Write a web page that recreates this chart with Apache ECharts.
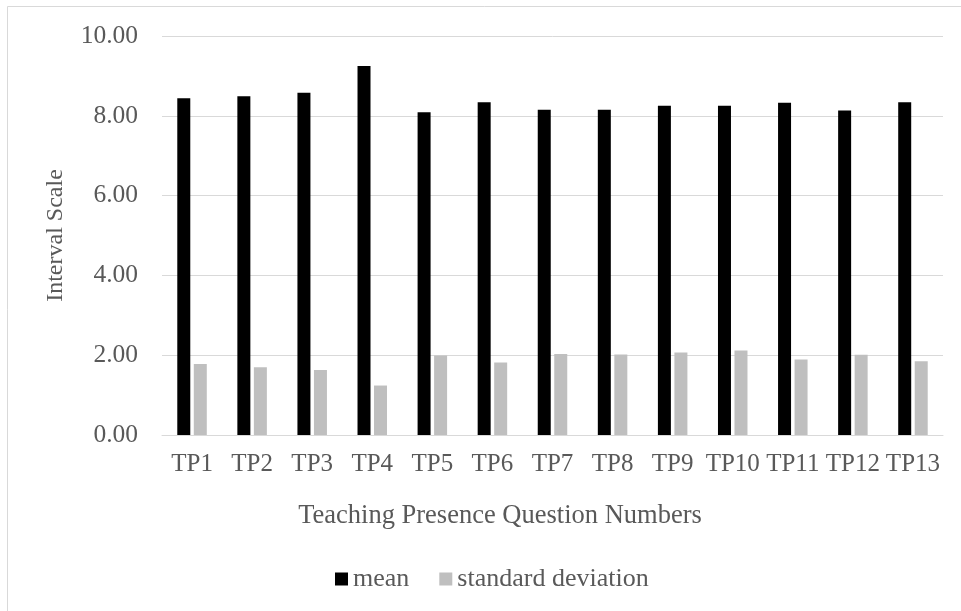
<!DOCTYPE html>
<html>
<head>
<meta charset="utf-8">
<script src="https://cdn.jsdelivr.net/npm/echarts@6/dist/echarts.min.js"></script>
<style>
  html, body { margin: 0; padding: 0; background: #ffffff; }
  #chart { width: 961px; height: 611px; }
</style>
</head>
<body>
<div id="chart"></div>
<script>
// Teaching presence survey items
const categories = ['TP1', 'TP2', 'TP3', 'TP4', 'TP5', 'TP6', 'TP7', 'TP8', 'TP9', 'TP10', 'TP11', 'TP12', 'TP13'];
const meanValues = [8.44, 8.49, 8.58, 9.25, 8.09, 8.34, 8.15, 8.15, 8.25, 8.25, 8.33, 8.13, 8.34];
const sdValues = [1.78, 1.70, 1.63, 1.24, 1.99, 1.82, 2.03, 2.02, 2.07, 2.12, 1.89, 2.01, 1.85];
const yTicks = { min: 0, max: 10, interval: 2 };

const FONT = '"Liberation Serif", "Times New Roman", serif';
const TEXT = '#595959';
const LINE = '#d9d9d9';

const chart = echarts.init(document.getElementById('chart'), null, { renderer: 'canvas' });

chart.setOption({
  animation: false,
  backgroundColor: '#ffffff',
  textStyle: { fontFamily: FONT, color: TEXT },
  grid: { left: 162, right: 18, top: 36, bottom: 176, containLabel: false },
  graphic: [
    {
      type: 'rect',
      shape: { x: 7.5, y: 6.5, width: 970, height: 620 },
      style: { fill: 'none', stroke: LINE, lineWidth: 1 },
      silent: true
    },
    {
      type: 'text',
      x: 500, y: 516,
      style: {
        text: 'Teaching Presence Question Numbers',
        fontFamily: FONT, fontSize: 26.5, fill: TEXT,
        textAlign: 'center', textVerticalAlign: 'middle'
      }
    }
  ],
  legend: {
    data: ['mean', 'standard deviation'],
    left: 330, top: 561,
    itemWidth: 13, itemHeight: 13, itemGap: 30,
    icon: 'rect',
    textStyle: { fontFamily: FONT, fontSize: 26, color: TEXT }
  },
  xAxis: {
    type: 'category',
    data: categories,
    axisLine: { lineStyle: { color: LINE, width: 1 } },
    axisTick: { show: false },
    axisLabel: { fontFamily: FONT, fontSize: 25, color: TEXT, margin: 17, interval: 0 }
  },
  yAxis: {
    type: 'value',
    min: yTicks.min, max: yTicks.max, interval: yTicks.interval,
    name: 'Interval Scale',
    nameLocation: 'middle',
    nameGap: 94,
    nameTextStyle: { fontFamily: FONT, fontSize: 24, color: TEXT },
    axisLine: { show: false },
    axisTick: { show: false },
    splitLine: { lineStyle: { color: LINE, width: 1 } },
    axisLabel: {
      fontFamily: FONT, fontSize: 25.5, color: TEXT, margin: 24,
      formatter: v => v.toFixed(2)
    }
  },
  series: [
    {
      name: 'mean', type: 'bar', data: meanValues,
      barWidth: 13, barGap: '27%',
      itemStyle: { color: '#000000' }
    },
    {
      name: 'standard deviation', type: 'bar', data: sdValues,
      barWidth: 13, barGap: '27%',
      itemStyle: { color: '#bfbfbf' }
    }
  ]
});
</script>
</body>
</html>
